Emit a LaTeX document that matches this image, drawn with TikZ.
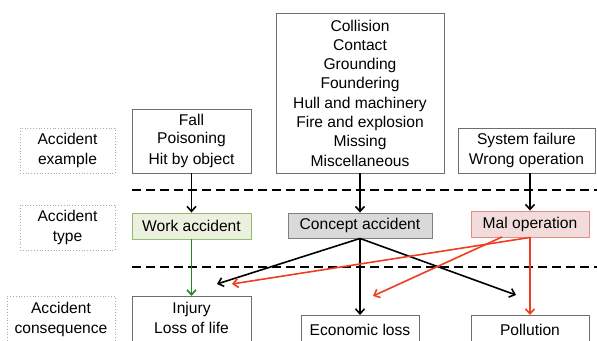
\documentclass[tikz,border=0pt]{standalone}
\usepackage{fontspec}
\setmainfont{Liberation Sans}
\usetikzlibrary{arrows.meta}
\definecolor{boxgray}{RGB}{110,110,110}
\definecolor{lblgray}{RGB}{170,170,170}
\definecolor{wfill}{RGB}{235,241,222}
\definecolor{wdraw}{RGB}{140,190,110}
\definecolor{cfill}{RGB}{217,217,217}
\definecolor{cdraw}{RGB}{128,128,128}
\definecolor{mfill}{RGB}{242,220,219}
\definecolor{mdraw}{RGB}{230,140,130}
\definecolor{redarr}{RGB}{238,62,32}
\definecolor{greenarr}{RGB}{40,130,40}
\begin{document}
\begin{tikzpicture}[x=1pt,y=-1pt,
  every node/.style={font=\fontsize{15.6}{19.3}\selectfont, align=center, inner sep=0pt},
  box/.style={draw=boxgray, line width=0.9pt, fill=white},
  lbl/.style={draw=lblgray, dotted, line width=0.8pt},
  arr/.style={line width=1.6pt, -{Straight Barb[length=5pt,width=9pt]}},
  dashline/.style={line width=2pt, dash pattern=on 9pt off 5pt}
]
\useasboundingbox (0,0) rectangle (597,340);
\clip (0,0) rectangle (597,340);

% dashed separators
\coordinate (d1a) at (132,190);
\coordinate (d1b) at (600,190);
\coordinate (d2a) at (132,267);
\coordinate (d2b) at (600,267);
\draw[dashline] (d1a) -- (d1b);
\draw[dashline] (d2a) -- (d2b);

% left labels
\node[lbl, minimum width=95pt, minimum height=45pt] (lex) at (67.5,150.5) {Accident\\example};
\node[lbl, minimum width=95pt, minimum height=45pt] (lty) at (67.5,227.5) {Accident\\type};
\node[lbl, minimum width=108pt, inner ysep=6pt, anchor=north] (lco) at (61,296) {Accident\\consequence\\[6pt]};

% examples
\node[box, minimum width=119pt, minimum height=64pt] (fall) at (191.5,141) {\raisebox{-3pt}{\shortstack{Fall\\[3.3pt]Poisoning\\[3.3pt]Hit by object}}};
\node[box, minimum width=168pt, minimum height=160pt] (coll) at (360,93) {Collision\\Contact\\Grounding\\Foundering\\Hull and machinery\\Fire and explosion\\Missing\\Miscellaneous};
\node[box, minimum width=137pt, minimum height=45pt] (sys) at (526.5,150.5) {System failure\\Wrong operation};

% types
\node[draw=wdraw, fill=wfill, line width=0.9pt, minimum width=119pt, minimum height=26pt] (work) at (191.5,226) {Work accident};
\node[draw=cdraw, fill=cfill, line width=0.9pt, minimum width=144pt, minimum height=25pt] (conc) at (360,225.5) {Concept accident};
\node[draw=mdraw, fill=mfill, line width=0.9pt, minimum width=118pt, minimum height=26pt] (mal) at (530,224) {Mal operation};

% consequences
\node[box, minimum width=119pt, inner ysep=6pt, anchor=north] (inj) at (191.5,296) {Injury\\Loss of life\\[6pt]};
\node[box, minimum width=118pt, minimum height=40pt, anchor=north] (eco) at (360,315) {};
\node[anchor=base] (ecot) at (360,335) {Economic loss};
\node[box, minimum width=118pt, minimum height=40pt, anchor=north] (pol) at (530,315) {};
\node[anchor=base] (polt) at (530,335) {Pollution};

% free arrow ends
\coordinate (cinj) at (217,284);
\coordinate (cpol) at (516,295);
\coordinate (minj) at (232,284);
\coordinate (meco) at (373,296);
\coordinate (mstart) at (502,237);

% arrows
\draw[arr] (fall.south) -- (work.north);
\draw[arr] (coll.south) -- (conc.north);
\draw[arr] (sys.south -| mal.north) -- (mal.north);
\draw[arr, greenarr] (work.south) -- (inj.north);
\draw[arr] (conc.south) -- (cinj);
\draw[arr] (conc.south) -- (eco.north);
\draw[arr] (conc.south) -- (cpol);
\draw[arr, redarr] (mal.south) -- (minj);
\draw[arr, redarr] (mstart) -- (meco);
\draw[arr, redarr] (mal.south) -- (pol.north);
\end{tikzpicture}
\end{document}
